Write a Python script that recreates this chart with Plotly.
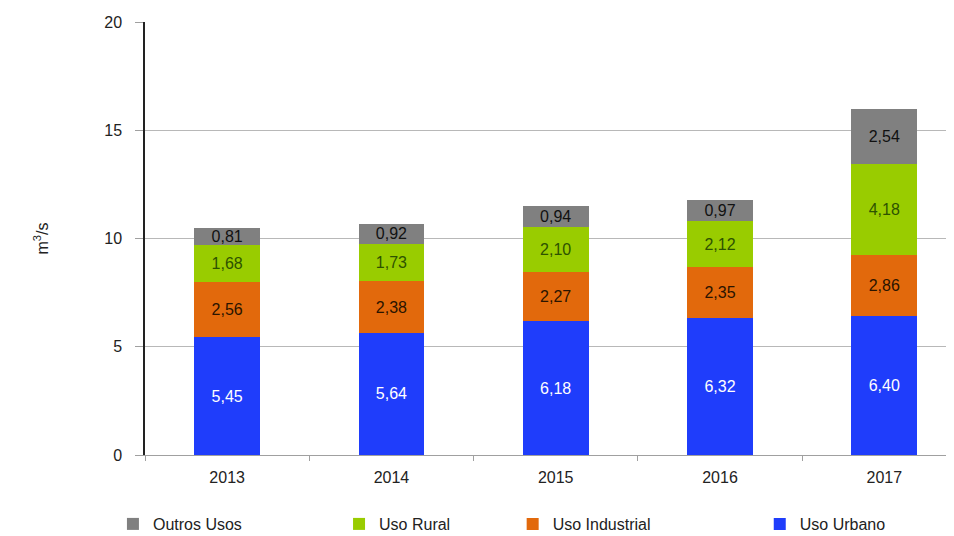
import plotly.graph_objects as go

years = ["2013", "2014", "2015", "2016", "2017"]
uso_urbano = [5.45, 5.64, 6.18, 6.32, 6.40]
uso_industrial = [2.56, 2.38, 2.27, 2.35, 2.86]
uso_rural = [1.68, 1.73, 2.10, 2.12, 4.18]
outros_usos = [0.81, 0.92, 0.94, 0.97, 2.54]
y_ticks = [0, 5, 10, 15, 20]


def fmt(vals):
    return [f"{v:.2f}".replace(".", ",") for v in vals]


FONT = "Liberation Sans, Arial, sans-serif"

series = [
    ("Uso Urbano", uso_urbano, "#1f3dfb", "#ffffff", "legend4", 0.788),
    ("Uso Industrial", uso_industrial, "#e2690c", "#2a1400", "legend3", 0.529),
    ("Uso Rural", uso_rural, "#99cc00", "#2d5200", "legend2", 0.347),
    ("Outros Usos", outros_usos, "#808080", "#111111", "legend", 0.110),
]

fig = go.Figure()
for name, vals, color, tcolor, leg, _ in series:
    fig.add_trace(go.Bar(
        name=name, x=years, y=vals, marker=dict(color=color, line=dict(width=0)),
        width=0.4, text=fmt(vals), textposition="inside", insidetextanchor="middle",
        textangle=0, constraintext="none",
        textfont=dict(family=FONT, size=16, color=tcolor),
        legend=leg, hoverinfo="skip", showlegend=True,
    ))

layout_legends = {}
for name, vals, color, tcolor, leg, lx in series:
    layout_legends[leg] = dict(
        x=lx, y=0.0373, xref="container", yref="container",
        xanchor="left", yanchor="middle", orientation="h",
        font=dict(family=FONT, size=16, color="#222222"), bgcolor="rgba(0,0,0,0)",
        itemwidth=30, visible=True,
    )

fig.update_layout(
    barmode="stack",
    width=954, height=536,
    showlegend=True,
    margin=dict(l=137, r=12, t=14, b=89, autoexpand=False),
    plot_bgcolor="white", paper_bgcolor="white",
    font=dict(family=FONT, size=16, color="#222222"),
    **layout_legends,
)
fig.update_xaxes(
    range=[-0.5, 4.4], showgrid=False, showline=True, linecolor="#a0a0a0",
    ticks="outside", tickson="boundaries", ticklen=5, tickcolor="#a0a0a0",
    ticklabelstandoff=8, automargin=False,
    tickfont=dict(family=FONT, size=16, color="#222222"),
)
fig.update_yaxes(
    range=[0, 20], tickvals=y_ticks, showgrid=True, gridcolor="#b8b8b8", gridwidth=1,
    showline=True, linecolor="#222222", linewidth=1.5, ticks="outside", ticklen=8,
    tickcolor="#a0a0a0", zeroline=False, ticklabelstandoff=10, automargin=False,
    tickfont=dict(family=FONT, size=16, color="#222222"),
    title=dict(text="m<sup>3</sup>/s", standoff=52, font=dict(family=FONT, size=16, color="#222222")),
)

fig.write_html("out.html")
